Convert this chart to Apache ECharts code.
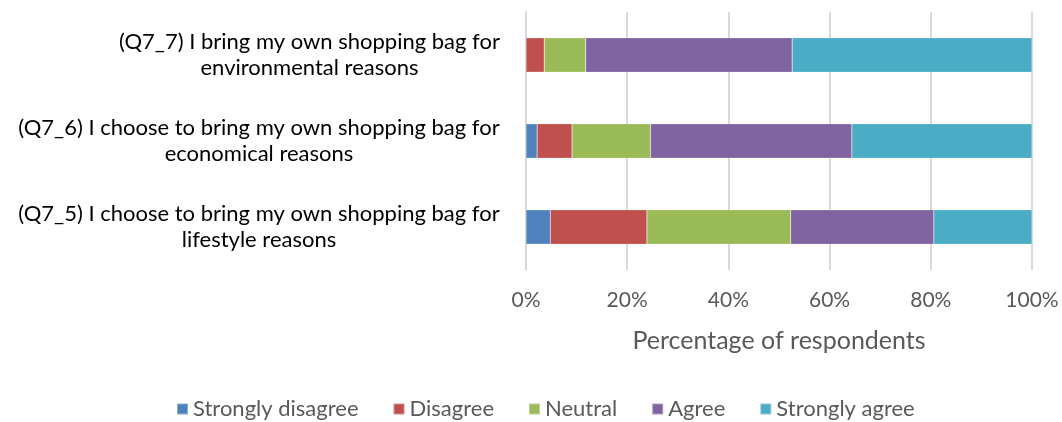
<!DOCTYPE html>
<html>
<head>
<meta charset="utf-8">
<title>Shopping bag reasons</title>
<script src="https://cdn.jsdelivr.net/npm/echarts@6/dist/echarts.min.js"></script>
<style>
  html, body { margin: 0; padding: 0; background: #fff; }
  #main { width: 1062px; height: 422px; }
</style>
</head>
<body>
<div id="main"></div>
<script>
// categories, bottom to top
var categories = [
  '(Q7_5) I choose to bring my own shopping bag for\nlifestyle reasons',
  '(Q7_6) I choose to bring my own shopping bag for\neconomical reasons',
  '(Q7_7) I bring my own shopping bag for\nenvironmental reasons'
];
var seriesNames = ['Strongly disagree', 'Disagree', 'Neutral', 'Agree', 'Strongly agree'];
// percent of respondents
var stronglyDisagree = [4.8, 2.2, 0];
var disagree = [19.1, 6.9, 3.6];
var neutral = [28.4, 15.5, 8.2];
var agree = [28.3, 39.8, 40.8];
var stronglyAgree = [19.4, 35.6, 47.4];
var tickLabels = ['0%', '20%', '40%', '60%', '80%', '100%'];

var colors = ['#4f81bd', '#c0504d', '#9bbb59', '#8064a2', '#4bacc6'];
var values = [stronglyDisagree, disagree, neutral, agree, stronglyAgree];

var font = 'Lato, "Open Sans", sans-serif';
var catSize = 22;

// each label block is right aligned, its lines centred inside the block
var ctx = document.createElement('canvas').getContext('2d');
ctx.font = catSize + 'px ' + font;
var rich = {};
categories.forEach(function (c, k) {
  var w = 0;
  c.split('\n').forEach(function (s) { w = Math.max(w, ctx.measureText(s).width); });
  rich['c' + k] = { width: Math.ceil(w), align: 'center', fontSize: catSize, lineHeight: 26, color: '#000', fontFamily: font };
});

var series = [];
for (var i = 0; i < seriesNames.length; i++) {
  series.push({
    name: seriesNames[i],
    type: 'bar',
    stack: 'total',
    barCategoryGap: '60%',
    data: values[i],
    itemStyle: { color: colors[i], borderColor: 'rgba(255,255,255,0.35)', borderWidth: 0.5 }
  });
}

var chart = echarts.init(document.getElementById('main'));
chart.setOption({
  animation: false,
  color: colors,
  grid: { left: 526, right: 30, top: 12, bottom: 152 },
  legend: {
    top: 398,
    left: 176,
    padding: 0,
    itemWidth: 11,
    itemHeight: 11,
    itemGap: 34,
    icon: 'rect',
    textStyle: { color: '#595959', fontSize: 22, fontFamily: font },
    data: seriesNames
  },
  xAxis: {
    type: 'value',
    min: 0,
    max: 100,
    interval: 20,
    axisLine: { show: false },
    axisTick: { show: false },
    splitLine: { lineStyle: { color: '#d9d9d9', width: 2 } },
    axisLabel: {
      color: '#595959',
      fontSize: 21,
      fontFamily: font,
      margin: 20,
      formatter: function (v) { return tickLabels[Math.round(v / 20)]; }
    },
    name: 'Percentage of respondents',
    nameLocation: 'middle',
    nameGap: 58,
    nameTextStyle: { color: '#595959', fontSize: 25, fontFamily: font }
  },
  yAxis: {
    type: 'category',
    data: categories,
    axisLine: { show: true, lineStyle: { color: '#d9d9d9', width: 2 } },
    axisTick: { show: false },
    axisLabel: {
      align: 'right',
      margin: 26,
      formatter: function (v) {
        var k = categories.indexOf(v);
        return v.split('\n').map(function (s) { return '{c' + k + '|' + s + '}'; }).join('\n');
      },
      rich: rich
    }
  },
  series: series
});
</script>
</body>
</html>
